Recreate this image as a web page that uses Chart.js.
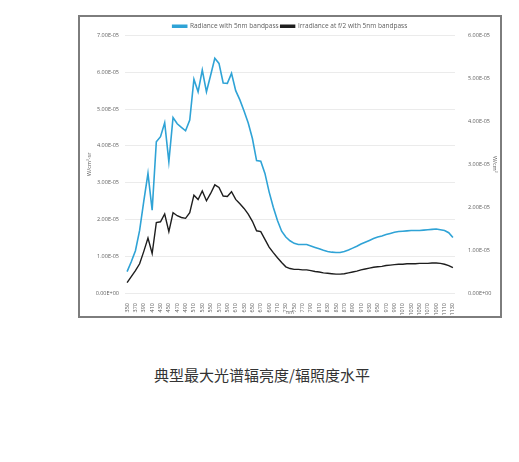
<!DOCTYPE html>
<html lang="zh">
<head>
<meta charset="UTF-8">
<meta name="viewport" content="width=device-width, initial-scale=1.0">
<title>典型最大光谱辐亮度/辐照度水平</title>
<script src="https://cdn.jsdelivr.net/npm/chart.js"></script>
<style>
    body { margin: 0; background: #fff; }
    #frame { position: absolute; left: 78px; top: 15px; width: 420px; height: 299px; border: 2px solid #7d7d7d; background: #fff; }
    #caption { position: absolute; left: 0; width: 524px; top: 364px; text-align: center;
               font-family: "Noto Sans CJK SC", sans-serif; font-size: 15px; color: #333; }
</style>
</head>
<body>
<div id="frame"><canvas id="spectrumChart" width="420" height="299"></canvas></div>
<div id="caption">典型最大光谱辐亮度/辐照度水平</div>

<script>
// wavelength categories (nm)
const wavelengths = [350, 360, 370, 380, 390, 400, 410, 420, 430, 440,
    450, 460, 470, 480, 490, 500, 510, 520, 530, 540,
    550, 560, 570, 580, 590, 600, 610, 620, 630, 640,
    650, 660, 670, 680, 690, 700, 710, 720, 730, 740,
    750, 760, 770, 780, 790, 800, 810, 820, 830, 840,
    850, 860, 870, 880, 890, 900, 910, 920, 930, 940,
    950, 960, 970, 980, 990, 1000, 1010, 1020, 1030, 1040,
    1050, 1060, 1070, 1080, 1090, 1100, 1110, 1120, 1130];

// radiance, W/cm2-sr (left axis)
const radiance = [0.58e-5, 0.85e-5, 1.15e-5, 1.70e-5, 2.50e-5, 3.25e-5, 2.25e-5, 4.11e-5, 4.25e-5, 4.63e-5,
    3.57e-5, 4.77e-5, 4.60e-5, 4.50e-5, 4.41e-5, 4.70e-5, 5.81e-5, 5.47e-5, 6.06e-5, 5.47e-5,
    5.92e-5, 6.38e-5, 6.24e-5, 5.71e-5, 5.70e-5, 5.97e-5, 5.50e-5, 5.25e-5, 4.95e-5, 4.62e-5,
    4.20e-5, 3.60e-5, 3.58e-5, 3.25e-5, 2.75e-5, 2.33e-5, 1.97e-5, 1.68e-5, 1.52e-5, 1.42e-5,
    1.35e-5, 1.32e-5, 1.32e-5, 1.32e-5, 1.28e-5, 1.24e-5, 1.20e-5, 1.16e-5, 1.13e-5, 1.11e-5,
    1.10e-5, 1.10e-5, 1.13e-5, 1.17e-5, 1.22e-5, 1.27e-5, 1.33e-5, 1.38e-5, 1.43e-5, 1.48e-5,
    1.52e-5, 1.55e-5, 1.59e-5, 1.62e-5, 1.65e-5, 1.67e-5, 1.68e-5, 1.69e-5, 1.70e-5, 1.70e-5,
    1.70e-5, 1.71e-5, 1.72e-5, 1.73e-5, 1.74e-5, 1.72e-5, 1.70e-5, 1.64e-5, 1.51e-5];

// irradiance at f/2, W/cm2 (right axis)
const irradiance = [0.24e-5, 0.38e-5, 0.52e-5, 0.68e-5, 0.97e-5, 1.28e-5, 0.92e-5, 1.64e-5, 1.66e-5, 1.84e-5,
    1.43e-5, 1.87e-5, 1.80e-5, 1.76e-5, 1.74e-5, 1.87e-5, 2.28e-5, 2.18e-5, 2.38e-5, 2.15e-5,
    2.32e-5, 2.52e-5, 2.46e-5, 2.26e-5, 2.25e-5, 2.36e-5, 2.18e-5, 2.08e-5, 1.97e-5, 1.84e-5,
    1.67e-5, 1.45e-5, 1.43e-5, 1.25e-5, 1.07e-5, 0.94e-5, 0.82e-5, 0.71e-5, 0.61e-5, 0.57e-5,
    0.55e-5, 0.55e-5, 0.54e-5, 0.54e-5, 0.52e-5, 0.50e-5, 0.49e-5, 0.47e-5, 0.46e-5, 0.45e-5,
    0.44e-5, 0.44e-5, 0.45e-5, 0.47e-5, 0.49e-5, 0.51e-5, 0.54e-5, 0.56e-5, 0.58e-5, 0.60e-5,
    0.61e-5, 0.62e-5, 0.64e-5, 0.65e-5, 0.66e-5, 0.67e-5, 0.67e-5, 0.68e-5, 0.68e-5, 0.68e-5,
    0.69e-5, 0.69e-5, 0.69e-5, 0.70e-5, 0.70e-5, 0.69e-5, 0.67e-5, 0.64e-5, 0.59e-5];

const leftTicks = { min: 0, max: 7e-5, step: 1e-5 };
const rightTicks = { min: 0, max: 6e-5, step: 1e-5 };

// Excel style "7.00E-05"
function sci(v) {
    const parts = Math.abs(v) < 1e-12 ? ['0.00', '+0'] : v.toExponential(2).split('e');
    const sign = parts[1][0] === '-' ? '-' : '+';
    const exp = parts[1].replace(/[+-]/, '').padStart(2, '0');
    return parts[0] + 'E' + sign + exp;
}

// legend box is a bit tall by default, pull the plot up closer to it
const legendTrim = {
    id: 'legendTrim',
    beforeLayout(chart) {
        const lg = chart.legend;
        if (lg && !lg._trimmed) {
            const fit = lg.fit.bind(lg);
            lg.fit = function () { fit(); this.height -= 4; };
            lg._trimmed = true;
        }
    }
};

const tickFont = { family: 'Open Sans', size: 5.5 };
const tickColor = '#606060';

const ctx = document.getElementById('spectrumChart').getContext('2d');
const spectrumChart = new Chart(ctx, {
    type: 'line',
    data: {
        labels: wavelengths,
        datasets: [{
            label: 'Radiance with 5nm bandpass',
            data: radiance,
            yAxisID: 'y',
            borderColor: '#2fa3d6',
            backgroundColor: '#2fa3d6',
            borderWidth: 1.6,
            pointRadius: 0,
            tension: 0
        }, {
            label: 'Irradiance at f/2 with 5nm bandpass',
            data: irradiance,
            yAxisID: 'y1',
            borderColor: '#1e1e1e',
            backgroundColor: '#1e1e1e',
            borderWidth: 1.4,
            pointRadius: 0,
            tension: 0
        }]
    },
    options: {
        responsive: false,
        animation: false,
        layout: { padding: { top: 4, left: 0, right: 0, bottom: 0 } },
        plugins: {
            tooltip: { enabled: false },
            legend: {
                position: 'top',
                labels: {
                    boxWidth: 14,
                    boxHeight: 2,
                    padding: 2,
                    color: '#606060',
                    font: { family: 'Open Sans', size: 6.5 }
                }
            }
        },
        scales: {
            x: {
                offset: true,
                grid: { display: false },
                border: { display: false },
                ticks: {
                    autoSkip: false,
                    minRotation: 90,
                    maxRotation: 90,
                    padding: 2,
                    color: tickColor,
                    font: tickFont,
                    callback: function (value, index) {
                        return index % 2 === 0 ? this.getLabelForValue(value) : '';
                    }
                },
                title: { display: true, text: 'nm', color: tickColor, font: { family: 'Open Sans', size: 5 }, padding: 0 },
                afterFit: scale => { scale.height = 23; }
            },
            y: {
                position: 'left',
                min: leftTicks.min,
                max: leftTicks.max,
                grid: { color: '#e6e6e6', lineWidth: 0.8, drawTicks: false },
                border: { display: false },
                ticks: { stepSize: leftTicks.step, padding: 6, color: tickColor, font: tickFont, callback: v => sci(v) },
                title: { display: true, text: 'W/cm²-sr', color: tickColor, font: { family: 'Open Sans', size: 5.5 }, padding: { top: 6, bottom: 0 } },
                afterFit: scale => { scale.width = 45; }
            },
            y1: {
                position: 'right',
                min: rightTicks.min,
                max: rightTicks.max,
                grid: { display: false },
                border: { display: false },
                ticks: { stepSize: rightTicks.step, padding: 5, color: tickColor, font: tickFont, callback: v => sci(v) },
                title: { display: true, text: 'W/cm²', color: tickColor, font: { family: 'Open Sans', size: 5.5 }, padding: { top: 2, bottom: 0 } },
                afterFit: scale => { scale.width = 45; }
            }
        }
    },
    plugins: [legendTrim]
});
</script>
</body>
</html>
